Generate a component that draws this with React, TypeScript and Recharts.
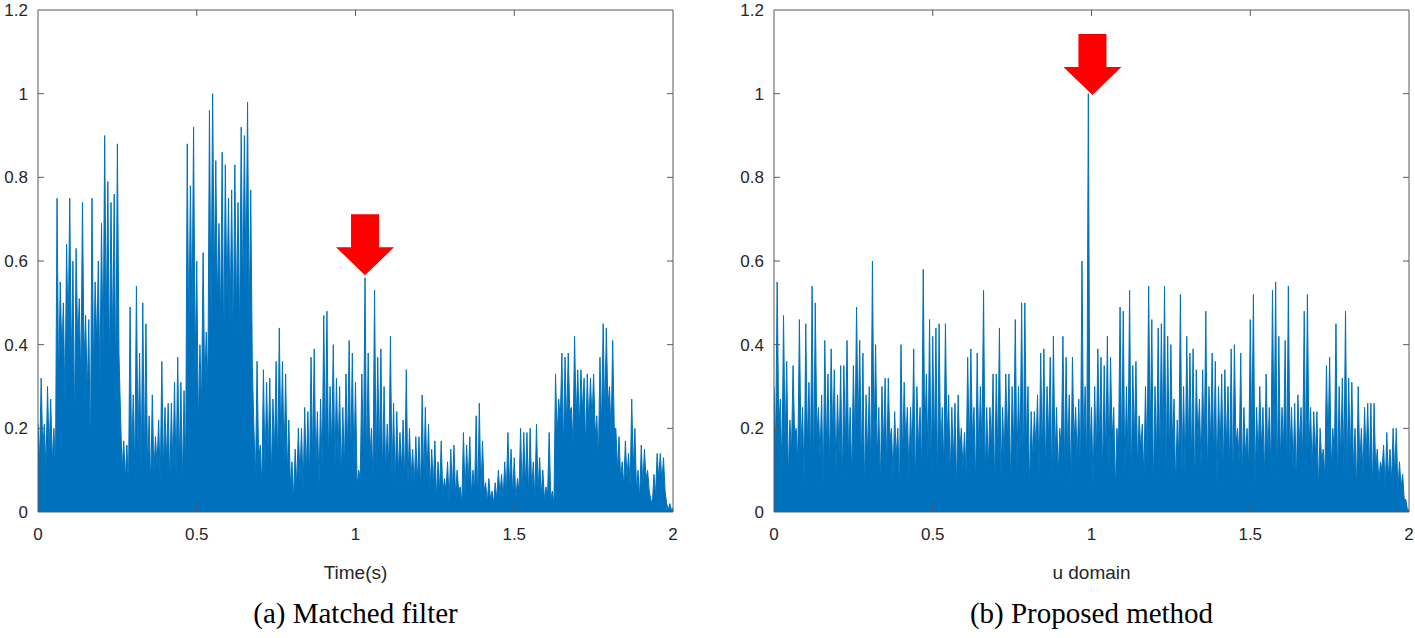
import React from "react";
import {
  AreaChart,
  Area,
  XAxis,
  YAxis,
  ReferenceLine,
  ReferenceDot,
} from "recharts";

// sample spacing of the read-off peaks; troughs sit half a step after each peak
const STEP = 0.01;

const xTicks = [0, 0.5, 1, 1.5, 2];
const yTicks = [0, 0.2, 0.4, 0.6, 0.8, 1, 1.2];

// (a) Matched filter – local maxima read every 0.01 s
const mfPeaks = [
  0.21, 0.32, 0.21, 0.30, 0.27, 0.20, 0.75, 0.55, 0.50, 0.64,
  0.75, 0.60, 0.63, 0.51, 0.74, 0.47, 0.46, 0.75, 0.55, 0.60,
  0.69, 0.90, 0.79, 0.74, 0.76, 0.88, 0.23, 0.17, 0.16, 0.49,
  0.28, 0.54, 0.38, 0.50, 0.45, 0.23, 0.28, 0.18, 0.22, 0.36,
  0.25, 0.26, 0.26, 0.31, 0.37, 0.31, 0.29, 0.88, 0.78, 0.92,
  0.60, 0.40, 0.62, 0.43, 0.96, 1.00, 0.84, 0.69, 0.86, 0.83,
  0.75, 0.77, 0.83, 0.74, 0.92, 0.90, 0.98, 0.77, 0.20, 0.36,
  0.16, 0.34, 0.31, 0.32, 0.27, 0.36, 0.44, 0.36, 0.33, 0.22,
  0.12, 0.15, 0.20, 0.20, 0.25, 0.24, 0.37, 0.39, 0.24, 0.27,
  0.47, 0.48, 0.30, 0.40, 0.32, 0.30, 0.25, 0.33, 0.41, 0.38,
  0.31, 0.10, 0.33, 0.56, 0.38, 0.20, 0.53, 0.37, 0.39, 0.30,
  0.21, 0.42, 0.26, 0.24, 0.19, 0.22, 0.34, 0.20, 0.15, 0.18,
  0.18, 0.28, 0.25, 0.21, 0.15, 0.17, 0.12, 0.17, 0.08, 0.12,
  0.15, 0.16, 0.10, 0.06, 0.19, 0.16, 0.18, 0.10, 0.23, 0.26,
  0.17, 0.07, 0.08, 0.05, 0.07, 0.10, 0.09, 0.12, 0.19, 0.15,
  0.13, 0.08, 0.20, 0.19, 0.19, 0.20, 0.12, 0.21, 0.13, 0.10,
  0.06, 0.19, 0.05, 0.33, 0.27, 0.38, 0.37, 0.38, 0.25, 0.42,
  0.34, 0.34, 0.32, 0.33, 0.32, 0.33, 0.23, 0.37, 0.45, 0.44,
  0.30, 0.41, 0.20, 0.18, 0.12, 0.17, 0.14, 0.27, 0.20, 0.10,
  0.16, 0.15, 0.10, 0.03, 0.09, 0.14, 0.14, 0.13, 0.02, 0.02,
];
// level the dense fill comes down to between those peaks
const mfTroughs = [
  0.12, 0.15, 0.10, 0.14, 0.12, 0.10, 0.30, 0.38, 0.25, 0.42,
  0.35, 0.20, 0.40, 0.30, 0.36, 0.28, 0.12, 0.33, 0.40, 0.30,
  0.37, 0.45, 0.34, 0.40, 0.30, 0.38, 0.10, 0.08, 0.06, 0.12,
  0.10, 0.14, 0.08, 0.12, 0.10, 0.06, 0.09, 0.11, 0.07, 0.10,
  0.12, 0.06, 0.10, 0.08, 0.11, 0.07, 0.10, 0.40, 0.45, 0.35,
  0.20, 0.25, 0.30, 0.30, 0.45, 0.55, 0.50, 0.45, 0.38, 0.50,
  0.45, 0.40, 0.48, 0.42, 0.50, 0.55, 0.45, 0.35, 0.08, 0.12,
  0.06, 0.10, 0.12, 0.08, 0.14, 0.10, 0.15, 0.12, 0.09, 0.06,
  0.03, 0.06, 0.08, 0.05, 0.09, 0.07, 0.12, 0.10, 0.06, 0.10,
  0.14, 0.12, 0.15, 0.10, 0.13, 0.08, 0.10, 0.14, 0.12, 0.11,
  0.06, 0.08, 0.12, 0.10, 0.12, 0.08, 0.10, 0.12, 0.08, 0.09,
  0.10, 0.08, 0.06, 0.09, 0.10, 0.07, 0.06, 0.08, 0.06, 0.07,
  0.05, 0.07, 0.08, 0.05, 0.06, 0.03, 0.05, 0.04, 0.05, 0.02,
  0.05, 0.04, 0.05, 0.02, 0.04, 0.06, 0.04, 0.05, 0.02, 0.04,
  0.05, 0.02, 0.03, 0.02, 0.03, 0.04, 0.03, 0.04, 0.06, 0.04,
  0.03, 0.05, 0.04, 0.06, 0.04, 0.05, 0.03, 0.05, 0.04, 0.03,
  0.04, 0.03, 0.02, 0.18, 0.22, 0.15, 0.20, 0.24, 0.16, 0.22,
  0.20, 0.24, 0.15, 0.20, 0.22, 0.18, 0.12, 0.20, 0.22, 0.25,
  0.18, 0.20, 0.10, 0.08, 0.06, 0.08, 0.06, 0.10, 0.05, 0.03,
  0.06, 0.08, 0.05, 0.02, 0.04, 0.08, 0.07, 0.05, 0.005, 0.005,
];
const mfLast = 0.01;

// (b) Proposed method – local maxima read every 0.01
const pmPeaks = [
  0.30, 0.55, 0.27, 0.47, 0.36, 0.22, 0.35, 0.20, 0.46, 0.25,
  0.45, 0.31, 0.54, 0.50, 0.25, 0.28, 0.41, 0.33, 0.39, 0.34,
  0.28, 0.35, 0.35, 0.41, 0.25, 0.35, 0.49, 0.41, 0.38, 0.28,
  0.30, 0.60, 0.40, 0.25, 0.30, 0.32, 0.32, 0.20, 0.24, 0.20,
  0.40, 0.31, 0.25, 0.25, 0.39, 0.30, 0.25, 0.58, 0.33, 0.46,
  0.42, 0.44, 0.45, 0.25, 0.45, 0.28, 0.25, 0.26, 0.28, 0.20,
  0.19, 0.37, 0.39, 0.25, 0.38, 0.30, 0.53, 0.25, 0.25, 0.33,
  0.33, 0.44, 0.25, 0.33, 0.33, 0.30, 0.46, 0.30, 0.50, 0.50,
  0.30, 0.24, 0.24, 0.28, 0.38, 0.39, 0.30, 0.37, 0.42, 0.25,
  0.20, 0.42, 0.37, 0.28, 0.37, 0.25, 0.27, 0.60, 0.30, 1.00,
  0.25, 0.30, 0.39, 0.37, 0.35, 0.42, 0.37, 0.25, 0.20, 0.49,
  0.48, 0.30, 0.53, 0.35, 0.36, 0.23, 0.21, 0.30, 0.54, 0.46,
  0.30, 0.44, 0.45, 0.54, 0.42, 0.40, 0.27, 0.22, 0.52, 0.30,
  0.42, 0.38, 0.39, 0.34, 0.27, 0.34, 0.48, 0.30, 0.38, 0.36,
  0.30, 0.33, 0.34, 0.30, 0.39, 0.40, 0.20, 0.38, 0.25, 0.20,
  0.46, 0.52, 0.25, 0.30, 0.25, 0.33, 0.25, 0.53, 0.55, 0.42,
  0.25, 0.41, 0.54, 0.25, 0.26, 0.28, 0.25, 0.48, 0.52, 0.25,
  0.24, 0.24, 0.20, 0.15, 0.35, 0.37, 0.20, 0.45, 0.30, 0.32,
  0.48, 0.32, 0.31, 0.20, 0.30, 0.20, 0.25, 0.26, 0.26, 0.26,
  0.15, 0.12, 0.16, 0.19, 0.15, 0.20, 0.20, 0.12, 0.09, 0.03,
];
const pmTroughs = [
  0.15, 0.20, 0.10, 0.16, 0.08, 0.14, 0.18, 0.12, 0.15, 0.06,
  0.16, 0.12, 0.08, 0.18, 0.13, 0.05, 0.15, 0.10, 0.17, 0.09,
  0.13, 0.06, 0.16, 0.12, 0.08, 0.15, 0.19, 0.10, 0.05, 0.13,
  0.09, 0.16, 0.12, 0.06, 0.15, 0.10, 0.17, 0.08, 0.13, 0.05,
  0.12, 0.16, 0.08, 0.13, 0.05, 0.15, 0.10, 0.17, 0.12, 0.08,
  0.14, 0.06, 0.13, 0.10, 0.16, 0.08, 0.12, 0.05, 0.14, 0.10,
  0.08, 0.13, 0.17, 0.06, 0.12, 0.15, 0.08, 0.10, 0.16, 0.05,
  0.13, 0.08, 0.12, 0.17, 0.06, 0.15, 0.10, 0.13, 0.08, 0.16,
  0.05, 0.12, 0.15, 0.08, 0.13, 0.10, 0.17, 0.06, 0.12, 0.08,
  0.15, 0.10, 0.13, 0.06, 0.16, 0.12, 0.08, 0.15, 0.10, 0.13,
  0.06, 0.12, 0.16, 0.08, 0.13, 0.10, 0.17, 0.05, 0.15, 0.12,
  0.08, 0.13, 0.06, 0.16, 0.10, 0.15, 0.08, 0.12, 0.17, 0.05,
  0.13, 0.10, 0.15, 0.08, 0.12, 0.16, 0.06, 0.13, 0.10, 0.08,
  0.15, 0.12, 0.05, 0.17, 0.10, 0.13, 0.08, 0.16, 0.12, 0.06,
  0.13, 0.08, 0.15, 0.10, 0.05, 0.16, 0.12, 0.08, 0.13, 0.10,
  0.17, 0.06, 0.12, 0.15, 0.08, 0.13, 0.10, 0.16, 0.05, 0.12,
  0.15, 0.08, 0.13, 0.10, 0.06, 0.16, 0.12, 0.08, 0.15, 0.10,
  0.13, 0.05, 0.12, 0.08, 0.15, 0.10, 0.13, 0.06, 0.12, 0.10,
  0.08, 0.12, 0.10, 0.05, 0.11, 0.08, 0.12, 0.09, 0.05, 0.10,
  0.07, 0.10, 0.05, 0.08, 0.07, 0.09, 0.05, 0.06, 0.03, 0.005,
];
const pmLast = 0.005;

const LINE = "#0072BD";
const AXIS = "#595959";
const TEXT = "#262626";
const SANS = "'Liberation Sans', Arial, Helvetica, sans-serif";
const SERIF = "'Liberation Serif', 'Times New Roman', serif";

const buildSeries = (peaks: number[], troughs: number[], last: number) => {
  const rows: { x: number; y: number }[] = [];
  peaks.forEach((p, i) => {
    rows.push({ x: +(i * STEP).toFixed(4), y: p });
    rows.push({ x: +(i * STEP + STEP / 2).toFixed(4), y: troughs[i] ?? 0 });
  });
  rows.push({ x: 2, y: last });
  return rows;
};

const Arrow = (props: any) => {
  const { cx, cy } = props;
  if (cx == null || cy == null) return null;
  const pts = [
    [cx - 14, cy - 61],
    [cx + 14, cy - 61],
    [cx + 14, cy - 28],
    [cx + 29, cy - 28],
    [cx, cy],
    [cx - 29, cy - 28],
    [cx - 14, cy - 28],
  ]
    .map((p) => p.join(","))
    .join(" ");
  return <polygon points={pts} fill="#ff0000" stroke="none" />;
};

interface PanelProps {
  left: number;
  data: { x: number; y: number }[];
  arrow: { x: number; y: number };
  xLabel: string;
  caption: string;
}

const TICK_X = 0.019;
const TICK_Y = 0.0143;

function Panel({ left, data, arrow, xLabel, caption }: PanelProps) {
  const tickStyle = { fontSize: 17, fill: TEXT, fontFamily: SANS };
  return (
    <>
      <div style={{ position: "absolute", left, top: 0 }}>
        <AreaChart
          width={700}
          height={560}
          data={data}
          margin={{ top: 10, right: 27, left: 0, bottom: 0 }}
        >
          <XAxis
            dataKey="x"
            type="number"
            domain={[0, 2]}
            ticks={xTicks}
            allowDataOverflow
            height={48}
            tickLine={false}
            tickMargin={10}
            axisLine={{ stroke: AXIS }}
            tick={tickStyle}
          />
          <YAxis
            type="number"
            domain={[0, 1.2]}
            ticks={yTicks}
            allowDataOverflow
            width={38}
            tickLine={false}
            tickMargin={4}
            axisLine={{ stroke: AXIS }}
            tick={tickStyle}
          />
          <Area
            type="linear"
            dataKey="y"
            stroke={LINE}
            strokeWidth={1}
            fill={LINE}
            fillOpacity={1}
            dot={false}
            activeDot={false}
            isAnimationActive={false}
          />
          <ReferenceLine y={1.2} stroke={AXIS} />
          <ReferenceLine x={2} stroke={AXIS} />
          {xTicks.slice(1, -1).map((t) => (
            <ReferenceLine
              key={`b${t}`}
              segment={[{ x: t, y: 0 }, { x: t, y: TICK_Y }]}
              stroke={AXIS}
            />
          ))}
          {xTicks.slice(1, -1).map((t) => (
            <ReferenceLine
              key={`t${t}`}
              segment={[{ x: t, y: 1.2 }, { x: t, y: 1.2 - TICK_Y }]}
              stroke={AXIS}
            />
          ))}
          {yTicks.slice(1, -1).map((t) => (
            <ReferenceLine
              key={`l${t}`}
              segment={[{ x: 0, y: t }, { x: TICK_X, y: t }]}
              stroke={AXIS}
            />
          ))}
          {yTicks.slice(1, -1).map((t) => (
            <ReferenceLine
              key={`r${t}`}
              segment={[{ x: 2, y: t }, { x: 2 - TICK_X, y: t }]}
              stroke={AXIS}
            />
          ))}
          <ReferenceDot x={arrow.x} y={arrow.y} r={0} shape={Arrow} />
        </AreaChart>
      </div>
      <div
        style={{
          position: "absolute",
          left: left + 38,
          width: 635,
          top: 562,
          lineHeight: "22px",
          textAlign: "center",
          fontFamily: SANS,
          fontSize: 19,
          color: TEXT,
        }}
      >
        {xLabel}
      </div>
      <div
        style={{
          position: "absolute",
          left: left + 38,
          width: 635,
          top: 597,
          lineHeight: "32px",
          textAlign: "center",
          fontFamily: SERIF,
          fontSize: 29,
          color: "#000",
        }}
      >
        {caption}
      </div>
    </>
  );
}

export default function App() {
  const mfData = buildSeries(mfPeaks, mfTroughs, mfLast);
  const pmData = buildSeries(pmPeaks, pmTroughs, pmLast);
  return (
    <div
      style={{
        position: "absolute",
        left: 0,
        top: 0,
        width: 1415,
        height: 638,
        background: "#fff",
        overflow: "hidden",
      }}
    >
      <Panel
        left={0}
        data={mfData}
        arrow={{ x: 1.03, y: 0.566 }}
        xLabel="Time(s)"
        caption="(a) Matched filter"
      />
      <Panel
        left={736}
        data={pmData}
        arrow={{ x: 1.003, y: 0.997 }}
        xLabel="u domain"
        caption="(b) Proposed method"
      />
    </div>
  );
}
